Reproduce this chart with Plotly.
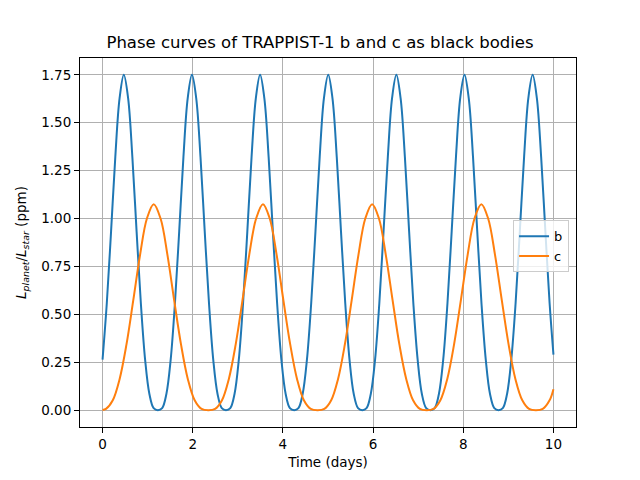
import plotly.graph_objects as go

# planet b: time (days) and luminosity ratio (ppm)
time_b = [
    0.000, 0.094, 0.189, 0.283, 0.378, 0.472, 0.567, 0.661, 0.755, 0.850,
    0.944, 1.039, 1.133, 1.228, 1.322, 1.416, 1.511, 1.605, 1.700, 1.794,
    1.889, 1.983, 2.077, 2.172, 2.266, 2.361, 2.455, 2.550, 2.644, 2.738,
    2.833, 2.927, 3.022, 3.116, 3.211, 3.305, 3.400, 3.494, 3.588, 3.683,
    3.777, 3.872, 3.966, 4.061, 4.155, 4.249, 4.344, 4.438, 4.533, 4.627,
    4.722, 4.816, 4.910, 5.005, 5.099, 5.194, 5.288, 5.383, 5.477, 5.571,
    5.666, 5.760, 5.855, 5.949, 6.044, 6.138, 6.232, 6.327, 6.421, 6.516,
    6.610, 6.705, 6.799, 6.893, 6.988, 7.082, 7.177, 7.271, 7.366, 7.460,
    7.555, 7.649, 7.743, 7.838, 7.932, 8.027, 8.121, 8.216, 8.310, 8.404,
    8.499, 8.593, 8.688, 8.782, 8.877, 8.971, 9.065, 9.160, 9.254, 9.349,
    9.443, 9.538, 9.632, 9.727, 9.821, 9.915, 10.000,
]
lum_b = [
    0.264, 0.557, 0.933, 1.322, 1.628, 1.750, 1.628, 1.322, 0.933, 0.557,
    0.264, 0.085, 0.011, 0.000, 0.011, 0.085,
    0.264, 0.557, 0.933, 1.322, 1.628, 1.750, 1.628, 1.322, 0.933, 0.557,
    0.264, 0.085, 0.011, 0.000, 0.011, 0.085,
    0.264, 0.557, 0.933, 1.322, 1.628, 1.750, 1.628, 1.322, 0.933, 0.557,
    0.264, 0.085, 0.011, 0.000, 0.011, 0.085,
    0.264, 0.557, 0.933, 1.322, 1.628, 1.750, 1.628, 1.322, 0.933, 0.557,
    0.264, 0.085, 0.011, 0.000, 0.011, 0.085,
    0.264, 0.557, 0.933, 1.322, 1.628, 1.750, 1.628, 1.322, 0.933, 0.557,
    0.264, 0.085, 0.011, 0.000, 0.011, 0.085,
    0.264, 0.557, 0.933, 1.322, 1.628, 1.750, 1.628, 1.322, 0.933, 0.557,
    0.264, 0.085, 0.011, 0.000, 0.011, 0.085,
    0.264, 0.557, 0.933, 1.322, 1.628, 1.750, 1.628, 1.322, 0.933, 0.557,
    0.290,
]

# planet c
time_c = [
    0.000, 0.076, 0.227, 0.378, 0.530, 0.681, 0.833, 0.984, 1.135, 1.287,
    1.438, 1.589, 1.741, 1.892, 2.043, 2.195, 2.346, 2.497, 2.649, 2.800,
    2.952, 3.103, 3.254, 3.406, 3.557, 3.708, 3.860, 4.011, 4.163, 4.314,
    4.465, 4.617, 4.768, 4.919, 5.071, 5.222, 5.373, 5.525, 5.676, 5.827,
    5.979, 6.130, 6.281, 6.433, 6.584, 6.736, 6.887, 7.038, 7.190, 7.341,
    7.492, 7.644, 7.795, 7.946, 8.098, 8.249, 8.401, 8.552, 8.703, 8.855,
    9.006, 9.157, 9.309, 9.460, 9.611, 9.763, 9.914, 10.000,
]
lum_c = [
    0.001,
    0.007, 0.052, 0.162, 0.342, 0.573, 0.812, 1.000, 1.075, 1.000, 0.812,
    0.573, 0.342, 0.162, 0.052, 0.007, 0.000,
    0.007, 0.052, 0.162, 0.342, 0.573, 0.812, 1.000, 1.075, 1.000, 0.812,
    0.573, 0.342, 0.162, 0.052, 0.007, 0.000,
    0.007, 0.052, 0.162, 0.342, 0.573, 0.812, 1.000, 1.075, 1.000, 0.812,
    0.573, 0.342, 0.162, 0.052, 0.007, 0.000,
    0.007, 0.052, 0.162, 0.342, 0.573, 0.812, 1.000, 1.075, 1.000, 0.812,
    0.573, 0.342, 0.162, 0.052, 0.007, 0.000,
    0.007, 0.052,
    0.110,
]

x_ticks = [0, 2, 4, 6, 8, 10]
y_ticks = [0.00, 0.25, 0.50, 0.75, 1.00, 1.25, 1.50, 1.75]

FONT = "DejaVu Sans"

fig = go.Figure()
fig.add_trace(go.Scatter(
    x=time_b, y=lum_b, name="b", mode="lines",
    line=dict(color="#1f77b4", width=2, shape="spline", smoothing=1),
))
fig.add_trace(go.Scatter(
    x=time_c, y=lum_c, name="c", mode="lines",
    line=dict(color="#ff7f0e", width=2, shape="spline", smoothing=1),
))

axis_common = dict(
    showline=True, mirror=True, linecolor="black", linewidth=1,
    ticks="outside", ticklen=5, tickcolor="black", tickwidth=1,
    showgrid=True, gridcolor="#b0b0b0", gridwidth=1,
    zeroline=False, automargin=False,
    tickfont=dict(family=FONT, size=13.5, color="black"),
)

# the page adds an 8px body margin, so the margins are shifted to compensate
fig.update_layout(
    width=640, height=480,
    paper_bgcolor="white", plot_bgcolor="white",
    margin=dict(l=72, r=72, t=50, b=61),
    font=dict(family=FONT, color="black"),
    title=dict(
        text="Phase curves of TRAPPIST-1 b and c as black bodies",
        x=(320 - 8) / 640, xanchor="center", y=1 - 34 / 480, yanchor="middle",
        font=dict(family=FONT, size=16.5, color="black"),
    ),
    xaxis=dict(
        axis_common, range=[-0.5, 10.5], tickvals=x_ticks,
        title=dict(text="Time (days)", font=dict(size=13.5), standoff=6),
    ),
    yaxis=dict(
        axis_common, range=[-0.0875, 1.8375], tickvals=y_ticks, tickformat=".2f",
        title=dict(
            text="<i>L</i><sub><i>planet</i></sub>/<i>L</i><sub><i>star</i></sub> (ppm)",
            font=dict(size=13.5), standoff=11,
        ),
    ),
    legend=dict(
        x=0.986, xanchor="right", y=0.49, yanchor="middle",
        bgcolor="rgba(255,255,255,0.8)", bordercolor="#cccccc", borderwidth=1,
        font=dict(family=FONT, size=13, color="black"),
    ),
    showlegend=True,
)

fig.write_html("out.html")
